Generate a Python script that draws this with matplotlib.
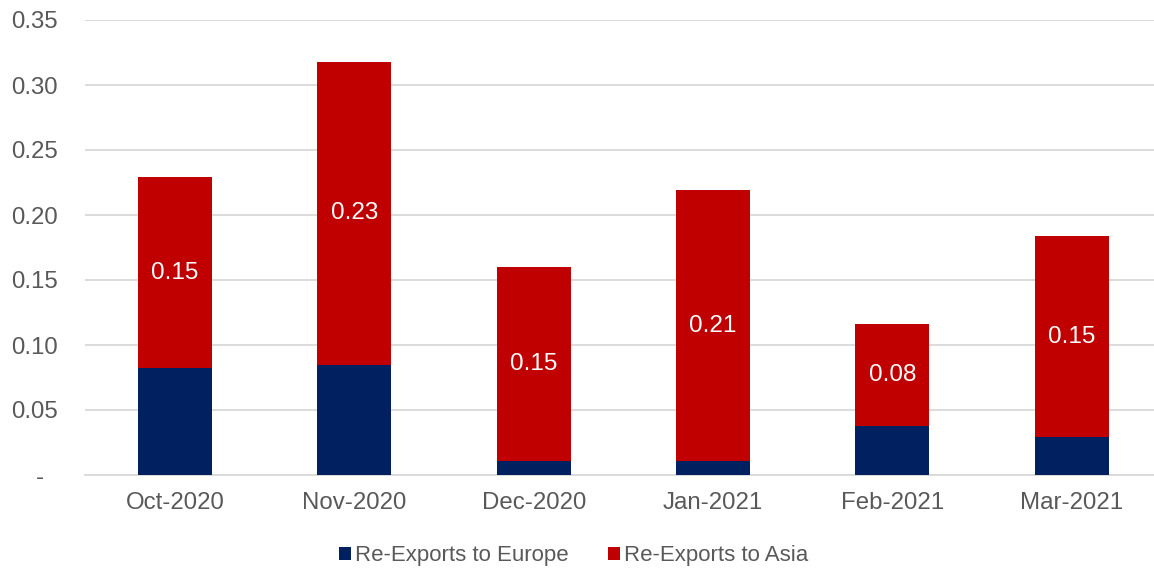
import matplotlib
matplotlib.use("Agg")
import matplotlib.pyplot as plt
from matplotlib.ticker import FuncFormatter

plt.rcParams['font.family'] = ['Liberation Sans', 'DejaVu Sans']

categories = ["Oct-2020", "Nov-2020", "Dec-2020", "Jan-2021", "Feb-2021", "Mar-2021"]
europe = [0.082, 0.085, 0.011, 0.011, 0.038, 0.029]
asia = [0.147, 0.233, 0.149, 0.208, 0.078, 0.155]
asia_labels = ["0.15", "0.23", "0.15", "0.21", "0.08", "0.15"]

FS = 17.3
TXT = "#595959"

fig = plt.figure(figsize=(11.54, 5.69), dpi=100)
ax = fig.add_axes([85.4 / 1154, 94 / 569, 1076 / 1154, 455 / 569])

x = range(len(categories))
w = 0.412
b1 = ax.bar(x, europe, width=w, color="#002060", label="Re-Exports to Europe", zorder=3)
b2 = ax.bar(x, asia, width=w, bottom=europe, color="#C00000", label="Re-Exports to Asia", zorder=3)

for i, (e, a, lab) in enumerate(zip(europe, asia, asia_labels)):
    ax.text(i, e + a / 2, lab, ha="center", va="center", color="white", fontsize=17.5, zorder=4)

ax.set_ylim(0, 0.35)
ax.set_yticks([0, 0.05, 0.10, 0.15, 0.20, 0.25, 0.30, 0.35])
ax.yaxis.set_major_formatter(FuncFormatter(lambda v, p: "-  " if abs(v) < 1e-9 else f"{v:.2f}"))
ax.set_xlim(-0.5, len(categories) - 0.5)
ax.set_xticks(list(x))
ax.set_xticklabels(categories)
ax.tick_params(axis="both", length=0, labelsize=FS, colors=TXT)
ax.tick_params(axis="x", pad=12)
ax.tick_params(axis="y", pad=20)
ax.grid(axis="y", color="#D9D9D9", linewidth=1.3, zorder=0)
for s in ["top", "right", "left"]:
    ax.spines[s].set_visible(False)
ax.spines["bottom"].set_color("#D9D9D9")
ax.spines["bottom"].set_linewidth(1.3)

fig.legend(handles=[b1, b2], loc="center", bbox_to_anchor=(0.497, 13 / 569), ncol=2,
           frameon=False, fontsize=16, handlelength=0.55, handleheight=0.55,
           columnspacing=1.8, handletextpad=0.15, labelcolor=TXT, borderpad=0)

fig.savefig("out.png", dpi=100)
